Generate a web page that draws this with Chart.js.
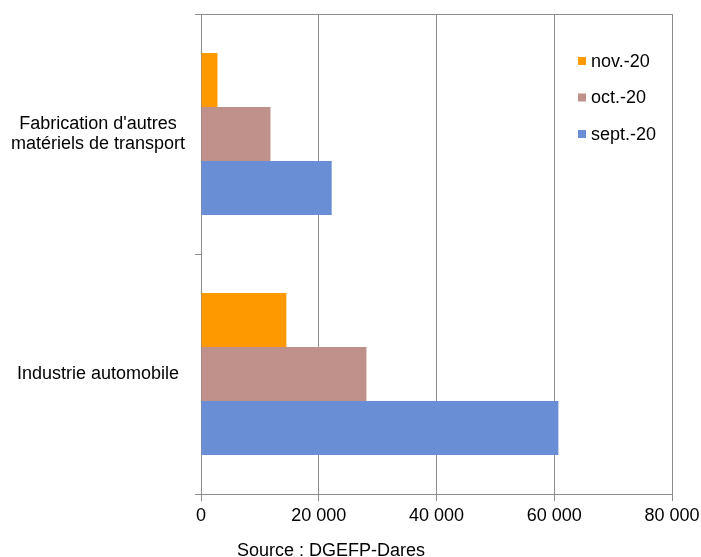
<!DOCTYPE html>
<html>
<head>
<meta charset="utf-8">
<script src="https://cdn.jsdelivr.net/npm/chart.js@4"></script>
<style>
    html, body { margin: 0; padding: 0; background: #fff; overflow: hidden; }
    #wrap { position: relative; width: 701px; height: 557px; }
    #source {
        position: absolute; left: 237px; top: 540px;
        font-family: Arial, "Liberation Sans", sans-serif; font-size: 18px; color: #000;
        white-space: nowrap;
    }
</style>
</head>
<body>
<div id="wrap">
    <canvas id="chart" width="701" height="557"></canvas>
    <div id="source">Source : DGEFP-Dares</div>
</div>
<script>
// categories (top to bottom)
const categories = [
    ["Fabrication d'autres", "matériels de transport"],
    "Industrie automobile"
];
// series, in legend order
const seriesLabels = ['nov.-20', 'oct.-20', 'sept.-20'];
const novValues = [2800, 14500];
const octValues = [11800, 28100];
const septValues = [22200, 60700];
const seriesColors = ['#FF9900', '#C0908A', '#6A8ED6'];
const xTicks = [0, 20000, 40000, 60000, 80000];

const FONT = 'Arial, "Liberation Sans", sans-serif';
const GRID = '#8c8c8c';

// legend drawn inside the plot, top right, one entry per line
const insideLegend = {
    id: 'insideLegend',
    afterDraw(chart) {
        const ctx = chart.ctx;
        ctx.save();
        ctx.font = '18px ' + FONT;
        ctx.textBaseline = 'middle';
        ctx.textAlign = 'left';
        chart.data.datasets.forEach((ds, i) => {
            const y = 61 + i * 36.5;
            ctx.fillStyle = ds.backgroundColor;
            ctx.fillRect(578, y - 4, 8, 8);
            ctx.fillStyle = '#000';
            ctx.fillText(ds.label, 591, y + 1);
        });
        ctx.restore();
    }
};

const values = [novValues, octValues, septValues];

new Chart(document.getElementById('chart'), {
    type: 'bar',
    data: {
        labels: categories,
        datasets: seriesLabels.map((label, i) => ({
            label: label,
            data: values[i],
            backgroundColor: seriesColors[i],
            categoryPercentage: 0.675,
            barPercentage: 1
        }))
    },
    options: {
        indexAxis: 'y',
        responsive: false,
        animation: false,
        layout: { padding: { top: 14, right: 29, left: 0, bottom: 0 } },
        plugins: {
            legend: { display: false },
            tooltip: { enabled: false }
        },
        scales: {
            x: {
                min: 0,
                max: 80000,
                afterBuildTicks: (scale) => { scale.ticks = xTicks.map(v => ({ value: v })); },
                afterFit: (scale) => {
                    scale.height = 63;
                    scale.paddingLeft = 0;
                    scale.paddingRight = 0;
                },
                grid: { color: GRID, tickLength: 7, tickColor: GRID },
                border: { color: GRID },
                ticks: {
                    color: '#000',
                    font: { family: FONT, size: 18 },
                    padding: 4,
                    maxRotation: 0,
                    callback: (v) => String(v).replace(/\B(?=(\d{3})+(?!\d))/g, ' ')
                }
            },
            y: {
                afterFit: (scale) => {
                    scale.width = 201;
                    scale.paddingTop = 0;
                    scale.paddingBottom = 0;
                },
                grid: {
                    offset: true,
                    color: (c) => c.index === 0 ? GRID : 'rgba(0,0,0,0)',
                    tickColor: GRID,
                    tickLength: 6
                },
                border: { color: GRID },
                ticks: {
                    color: '#000',
                    crossAlign: 'center',
                    padding: 10,
                    font: { family: FONT, size: 18, lineHeight: 1.12 }
                }
            }
        }
    },
    plugins: [insideLegend]
});
</script>
</body>
</html>
